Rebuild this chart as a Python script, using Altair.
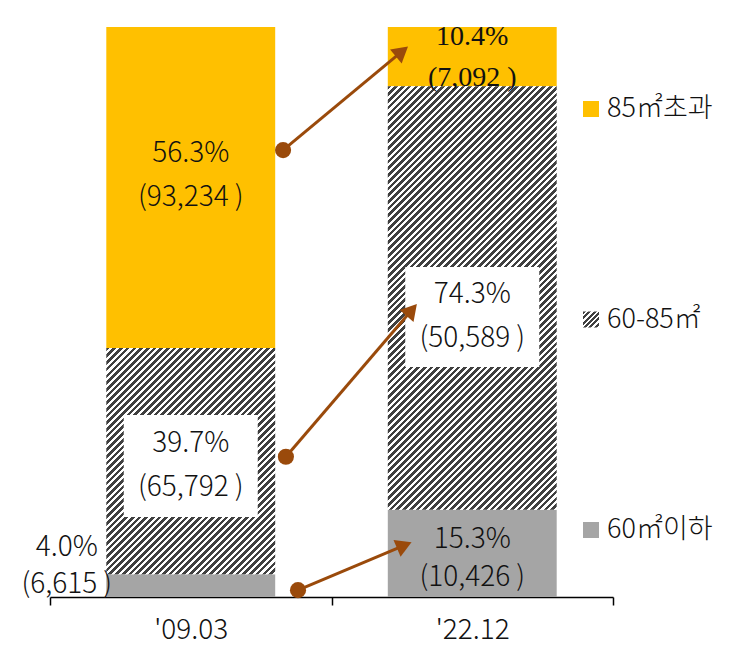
import math
import altair as alt
import pandas as pd

# ---------------- data ----------------
periods = ["'09.03", "'22.12"]
categories = ["60㎡이하", "60-85㎡", "85㎡초과"]
pct_0903 = [4.0, 39.7, 56.3]
cnt_0903 = [6615, 65792, 93234]
pct_2212 = [15.3, 74.3, 10.4]
cnt_2212 = [10426, 50589, 7092]

# arrows (x in category-index units, y in percent)
arrow_x0 = [0.828, 0.838, 0.881]
arrow_y0 = [78.4, 24.6, 1.2]
arrow_x1 = [1.243, 1.279, 1.250]
arrow_y1 = [95.4, 50.0, 8.9]

legend_order = ["85㎡초과", "60-85㎡", "60㎡이하"]

# ---------------- style / layout ----------------
W, H = 563, 570
PAD = {"left": 50, "top": 27, "right": 129, "bottom": 66}
GOLD, GRAY, DARK = "#FFC000", "#A5A5A5", "#404040"
BROWN = "#9A4A0B"
TXT = "#111111"
FONT = "Noto Sans CJK KR"
SERIF = "Liberation Serif"
FS = 28
FW = 300
BAR_FRAC = 0.6
STEP = W / len(periods)

# label nudges in px (positive = down) and box half heights (px)
nudge = {("'09.03", "85㎡초과"): -11, ("'09.03", "60-85㎡"): 5, ("'09.03", "60㎡이하"): -19,
         ("'22.12", "85㎡초과"): 1, ("'22.12", "60-85㎡"): 19, ("'22.12", "60㎡이하"): 6}
box_half = {"'09.03": 51, "'22.12": 50}
px2pct = 100.0 / H

rows = []
for p, pcts, cnts in ((periods[0], pct_0903, cnt_0903), (periods[1], pct_2212, cnt_2212)):
    base = 0.0
    for c, v, n in zip(categories, pcts, cnts):
        mid = base + v / 2
        yc = mid - nudge[(p, c)] * px2pct
        rows.append(dict(period=p, cat=c, pct=v, cnt=n, y0=base, y1=base + v, yc=yc,
                         b0=yc - box_half[p] * px2pct, b1=yc + box_half[p] * px2pct,
                         label=f"{v:.1f}%\n({n:,} )"))
        base += v
df = pd.DataFrame(rows)


def hatch(w, h, period=6.7, frac=0.55, dark=DARK, light="#FFFFFF"):
    n = max(1, round((w + h) / period))
    a = (w + h) / (w * w + h * h)
    stops = []
    for k in range(n):
        s0, sm, s1 = round(k / n, 5), round((k + frac) / n, 5), round((k + 1) / n, 5)
        stops += [alt.GradientStop(offset=s0, color=dark), alt.GradientStop(offset=sm, color=dark),
                  alt.GradientStop(offset=sm, color=light), alt.GradientStop(offset=s1, color=light)]
    return alt.LinearGradient(gradient="linear", stops=stops, x1=0, y1=0,
                              x2=round(a * w, 5), y2=round(a * h, 5))


xband = alt.Scale(domain=periods, paddingInner=0, paddingOuter=0)
yscale = alt.Scale(domain=[0, 100], nice=False, zero=False)
x_axis = alt.Axis(title=None, tickBand="extent", tickSize=8, tickWidth=1.5, tickColor="black",
                  domainColor="black", domainWidth=1.5, labelAngle=0, labelFont=FONT,
                  labelFontSize=FS, labelFontWeight=FW, labelColor=TXT, labelPadding=11, grid=False)
X = alt.X("period:N", scale=xband, sort=periods, axis=x_axis)

base = alt.Chart(df)

solid = base.transform_filter(
    alt.FieldOneOfPredicate(field="cat", oneOf=["60㎡이하", "85㎡초과"])
).mark_bar(width=alt.RelativeBandSize(BAR_FRAC)).encode(
    x=X,
    y=alt.Y("y0:Q", scale=yscale, axis=None), y2="y1",
    color=alt.Color("cat:N", scale=alt.Scale(domain=categories, range=[GRAY, DARK, GOLD]), legend=None),
)

hatch_layers = []
for p, pcts in ((periods[0], pct_0903), (periods[1], pct_2212)):
    w = BAR_FRAC * STEP
    h = pcts[1] * H / 100.0
    hatch_layers.append(
        base.transform_filter((alt.datum.period == p) & (alt.datum.cat == "60-85㎡"))
        .mark_bar(width=alt.RelativeBandSize(BAR_FRAC), fill=hatch(w, h))
        .encode(x=X, y=alt.Y("y0:Q", scale=yscale, axis=None), y2="y1")
    )

boxes = base.transform_filter(alt.datum.cat == "60-85㎡").mark_bar(
    width=alt.RelativeBandSize(134 / STEP), color="white"
).encode(x=X, y=alt.Y("b0:Q", scale=yscale, axis=None), y2="b1")


def labels(pred, font=FONT, lh=44, dx=0, fw=FW):
    return base.transform_filter(pred).mark_text(
        font=font, fontSize=FS, fontWeight=fw, color=TXT, lineBreak="\n", lineHeight=lh,
        baseline="middle", align="center", dx=dx, dy=-lh / 2
    ).encode(x=X, y=alt.Y("yc:Q", scale=yscale, axis=None), text="label:N")


lab_main = labels(
    ((alt.datum.period == periods[0]) & (alt.datum.cat != "60㎡이하"))
    | ((alt.datum.period == periods[1]) & (alt.datum.cat == "60-85㎡")), lh=44)
lab_gray2 = labels((alt.datum.period == periods[1]) & (alt.datum.cat == "60㎡이하"), lh=38)
lab_gold2 = labels((alt.datum.period == periods[1]) & (alt.datum.cat == "85㎡초과"),
                   font=SERIF, lh=41, fw=400)
lab_out = labels((alt.datum.period == periods[0]) & (alt.datum.cat == "60㎡이하"), lh=37, dx=-124)

bars_group = alt.layer(solid, *hatch_layers, boxes, lab_main, lab_gray2, lab_gold2, lab_out)

# ---------------- arrows ----------------
px_x = STEP  # px per x unit
px_y = H / 100.0
angles = []
for x0, y0, x1, y1 in zip(arrow_x0, arrow_y0, arrow_x1, arrow_y1):
    dx = (x1 - x0) * px_x
    dy = -(y1 - y0) * px_y
    angles.append(round(math.degrees(math.atan2(dx, -dy)) % 360, 2))
adf = pd.DataFrame(dict(x0=arrow_x0, y0=arrow_y0, x1=arrow_x1, y1=arrow_y1, angle=angles))
xq = alt.Scale(domain=[0, 2], nice=False, zero=False)
abase = alt.Chart(adf)
a_line = abase.mark_rule(color=BROWN, strokeWidth=3).encode(
    x=alt.X("x0:Q", scale=xq, axis=None), y=alt.Y("y0:Q", scale=yscale, axis=None), x2="x1", y2="y1")
a_dot = abase.mark_circle(color=BROWN, size=260, opacity=1).encode(
    x=alt.X("x0:Q", scale=xq, axis=None), y=alt.Y("y0:Q", scale=yscale, axis=None))
a_head = abase.mark_point(shape="triangle", filled=True, color=BROWN, size=330, opacity=1).encode(
    x=alt.X("x1:Q", scale=xq, axis=None), y=alt.Y("y1:Q", scale=yscale, axis=None),
    angle=alt.Angle("angle:Q", scale=None))
arrows_group = alt.layer(a_line, a_dot, a_head)

# ---------------- legend ----------------
ldf = pd.DataFrame(dict(cat=legend_order))
ly = alt.Y("cat:N", sort=legend_order,
           scale=alt.Scale(domain=legend_order, range=[82, 503], padding=0), axis=None)
lbase = alt.Chart(ldf)
l_solid = lbase.transform_filter(alt.datum.cat != "60-85㎡").mark_square(size=256, opacity=1).encode(
    x=alt.value(541), y=ly,
    color=alt.Color("cat:N", scale=alt.Scale(domain=categories, range=[GRAY, DARK, GOLD]), legend=None))
l_hatch = lbase.transform_filter(alt.datum.cat == "60-85㎡").mark_square(
    size=256, opacity=1, fill=hatch(16, 16, period=5.5)).encode(x=alt.value(541), y=ly)
l_text = lbase.mark_text(font=FONT, fontSize=27, fontWeight=FW, color=TXT, align="left",
                         baseline="middle").encode(x=alt.value(557), y=ly, text="cat:N")
legend_group = alt.layer(l_solid, l_hatch, l_text)

chart = alt.layer(bars_group, arrows_group, legend_group).resolve_scale(
    x="independent", y="independent", color="independent"
).properties(
    width=W, height=H, padding=PAD, autosize=alt.AutoSizeParams(type="none"), background="white"
).configure_view(stroke=None)

chart.save("out.html", embed_options={"renderer": "svg", "actions": False})
